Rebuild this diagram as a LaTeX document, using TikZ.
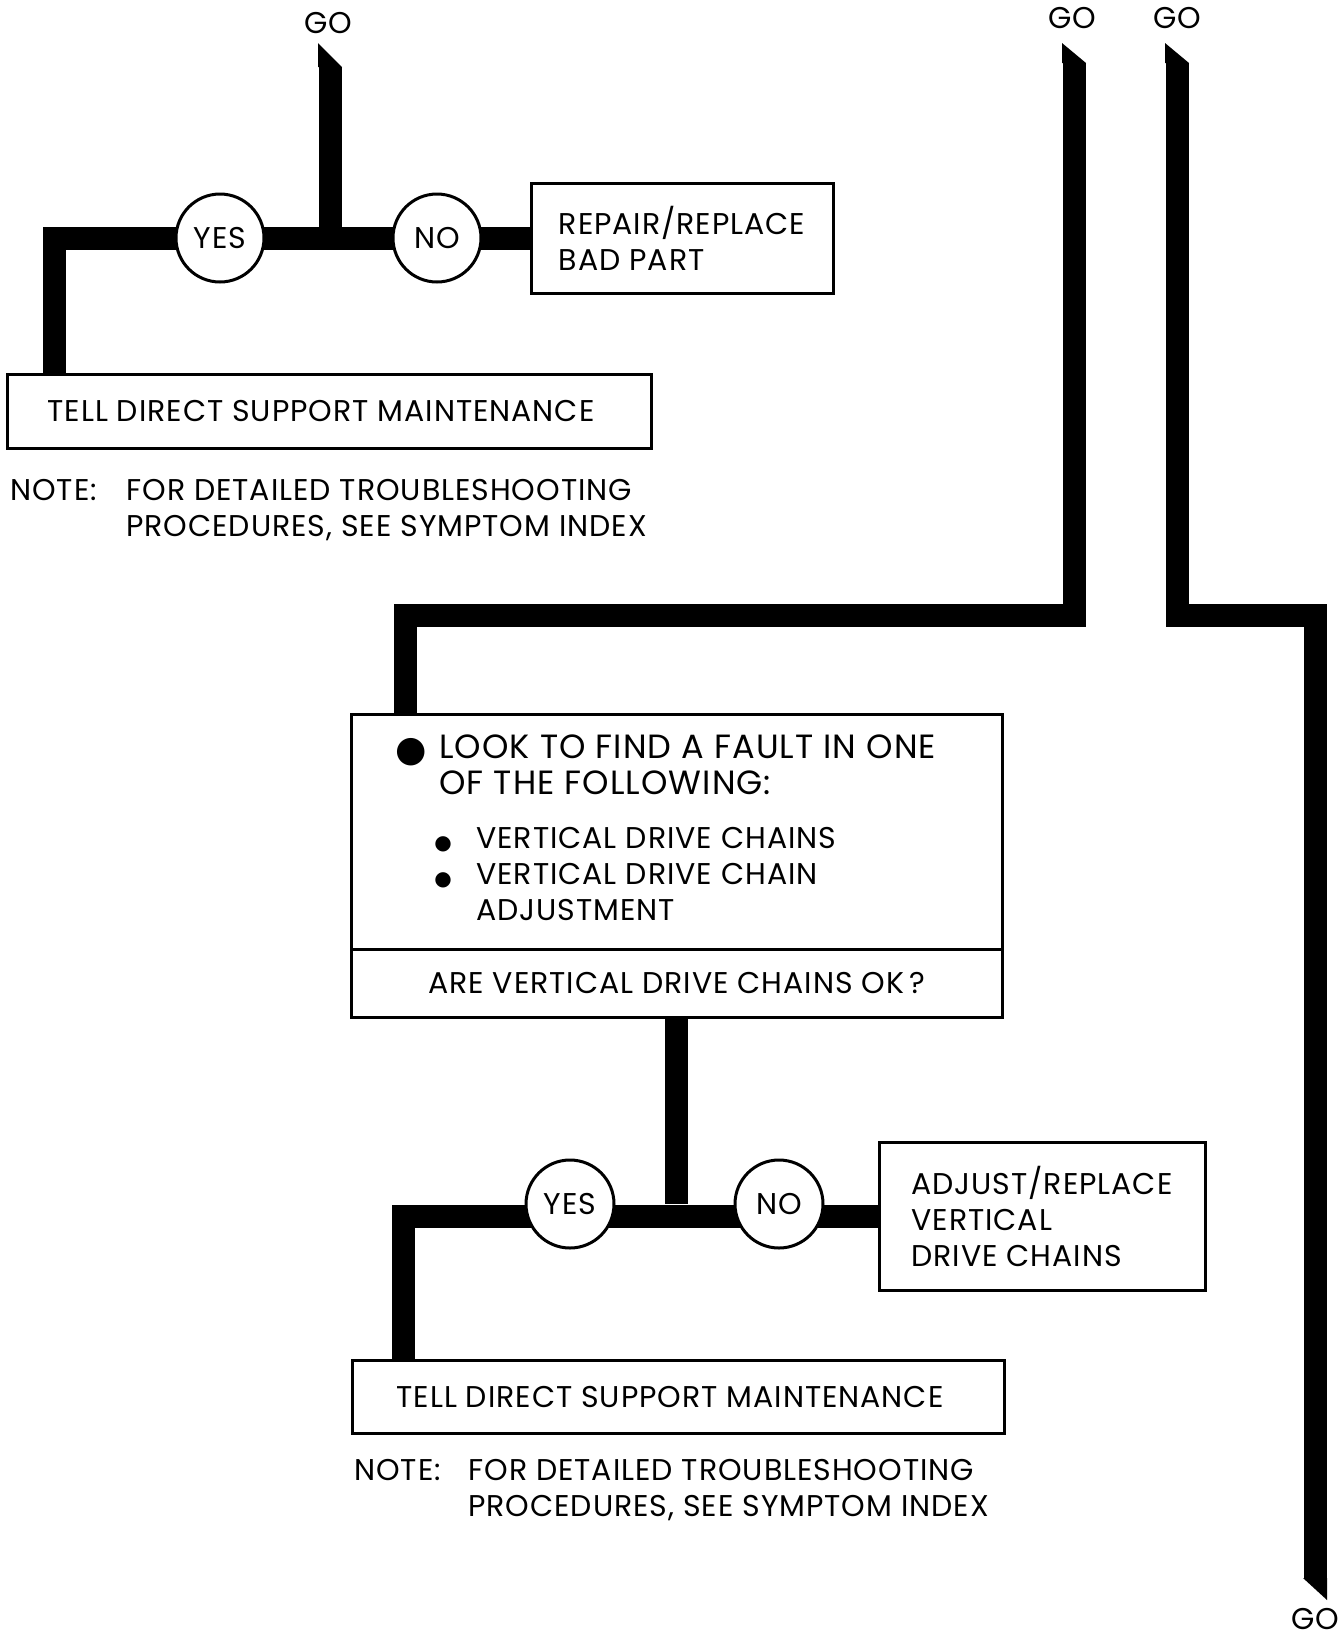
\documentclass[tikz,border=0pt]{standalone}
\usepackage{fontspec}
\setmainfont[LetterSpace=3.2]{Poppins}
\newfontfamily\symfont{DejaVu Sans}
\usetikzlibrary{backgrounds}

\newcommand\bigbul{\makebox[22pt][l]{\smash{\raisebox{-1.5pt}{\symfont\fontsize{18}{18}\selectfont ●}}}}
\newcommand\smbul{\makebox[18.5pt][l]{\hspace*{-2.5pt}\smash{\raisebox{-0.5pt}{\symfont\fontsize{10}{18}\selectfont ●}}}}
\newcommand\bigtxt[1]{{\fontsize{16.8}{18}\selectfont #1}}

\begin{document}
\begin{tikzpicture}[x=0.5pt, y=-0.5pt, font=\fontsize{15}{18}\selectfont,
  box/.style={draw, line width=1.5pt, fill=white, inner sep=0pt, align=left},
  yn/.style={draw, circle, line width=1.5pt, fill=white, minimum size=44pt, inner sep=0pt},
  bar/.style={line width=11.5pt},
  lab/.style={inner sep=0pt}]
  \useasboundingbox (0,0) rectangle (1343,1640);
  % go labels and bar ends
  \node[lab] (go1) at (328,23)   {GO};
  \node[lab] (go2) at (1072,18)  {GO};
  \node[lab] (go3) at (1177,18)  {GO};
  \node[lab] (go4) at (1315,1619) {GO};
  \coordinate (go1t) at (330,67);
  \coordinate (go2t) at (1074,63);
  \coordinate (go3t) at (1177,63);
  \coordinate (go4t) at (1315,1578);
  \coordinate (j2) at (405,615);
  \coordinate (j3) at (1315,615);
  \fill (318,43) -- (318,67) -- (342,67) -- cycle;
  \fill (1062,43) -- (1062,63) -- (1086,63) -- cycle;
  \fill (1165,43) -- (1165,63) -- (1189,63) -- cycle;
  \fill (1303,1578) -- (1327,1578) -- (1327,1600) -- cycle;
  % first check
  \node[yn] (yes1) at (220,238) {YES};
  \node[yn] (no1)  at (437,238) {NO};
  \node[box, minimum width=151pt, minimum height=55pt] (rep) at (682,238) {REPAIR/REPLACE\\BAD PART};
  \node[box, minimum width=322pt, minimum height=37pt, align=center] (tell1) at (329,411) {TELL DIRECT SUPPORT MAINTENANCE\hspace*{8pt}};
  \node[lab, anchor=base west] (note1) at (10,500.5) {\begin{tabular}[t]{@{}p{58pt}@{}l@{}}NOTE: & FOR DETAILED TROUBLESHOOTING\\ & PROCEDURES, SEE SYMPTOM INDEX\end{tabular}};
  % chains check
  \node[box, minimum width=325.5pt, minimum height=117.5pt] (look) at (676.5,831.5) {};
  \node[box, minimum width=325.5pt, minimum height=34pt, align=center] (ask) at (676.5,983) {ARE VERTICAL DRIVE CHAINS OK\,?};
  \node[lab, anchor=base west] (lookt) at (395,758.5) {\begin{tabular}[t]{@{}l@{}l@{}l@{}}
    \bigbul & \multicolumn{2}{@{}l@{}}{\bigtxt{LOOK TO FIND A FAULT IN ONE}}\\
    & \multicolumn{2}{@{}l@{}}{\bigtxt{OF THE FOLLOWING:}}\\[9pt]
    & \smbul & VERTICAL DRIVE CHAINS\\
    & \smbul & VERTICAL DRIVE CHAIN\\
    & & ADJUSTMENT
  \end{tabular}};
  \node[yn] (yes2) at (570,1204) {YES};
  \node[yn] (no2)  at (779,1204) {NO};
  \node[box, minimum width=163pt, minimum height=74pt] (adj) at (1042,1216) {ADJUST/REPLACE\\VERTICAL\\DRIVE CHAINS};
  \node[box, minimum width=326pt, minimum height=36.5pt, align=center] (tell2) at (678,1396.5) {TELL DIRECT SUPPORT MAINTENANCE\hspace*{8pt}};
  \node[lab, anchor=base west] (note2) at (354,1480.5) {\begin{tabular}[t]{@{}p{57pt}@{}l@{}}NOTE: & FOR DETAILED TROUBLESHOOTING\\ & PROCEDURES, SEE SYMPTOM INDEX\end{tabular}};
  \begin{scope}[on background layer]
    \draw[bar] (go1t) -- (go1t |- yes1);
    \draw[bar] ([xshift=24.5pt]tell1.north west) |- (rep.west);
    \draw[bar] (go2t) |- (j2) -- (j2 |- look.north);
    \draw[bar] (go3t) |- (j3) -- (go4t);
    \draw[bar] (ask.south) -- (ask.south |- yes2);
    \draw[bar] ([xshift=26.5pt]tell2.north west) |- (adj.west);
  \end{scope}
\end{tikzpicture}
\end{document}
